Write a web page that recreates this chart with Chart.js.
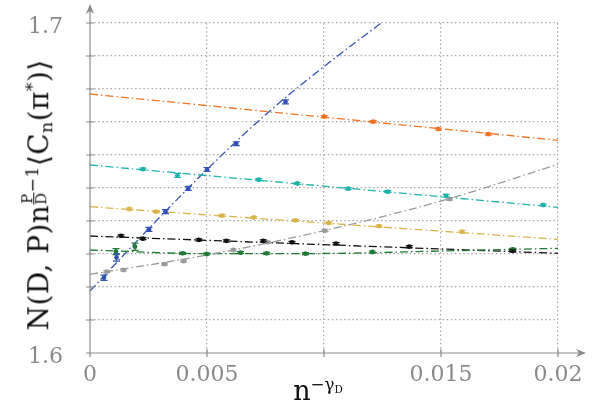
<!DOCTYPE html>
<html><head><meta charset="utf-8">
<script src="https://cdn.jsdelivr.net/npm/chart.js@4.4.0/dist/chart.umd.min.js"></script>
<style>
html,body{margin:0;padding:0;background:#fff;}
#wrap{position:relative;width:592px;height:403px;overflow:hidden;}
#c{position:absolute;left:0;top:0;}
.ttl{position:absolute;font-family:"DejaVu Serif",serif;color:#111;white-space:nowrap;line-height:1;}
#ytitle{left:38px;top:195px;font-size:28px;letter-spacing:0.4px;transform:translate(-50%,-50%) rotate(-90deg);}
#xtitle{left:318px;top:390px;font-size:27px;transform:translate(-50%,-50%);}
.sup{font-size:0.62em;vertical-align:0.55em;}
.sub{font-size:0.62em;vertical-align:-0.25em;}
.frac{display:inline-flex;flex-direction:column;align-items:center;vertical-align:middle;font-size:0.85em;line-height:0.9;}
.frac .num{border-bottom:1px solid #111;padding:0 1px;}
</style></head>
<body>
<div id="wrap">
<canvas id="c" width="592" height="403"></canvas>
<div class="ttl" id="ytitle">N(D, P)n<span class="sup"><span class="frac"><span class="num">P</span><span>D</span></span>−1</span>⟨C<span class="sub">n</span>(π<span class="sup">*</span>)⟩</div>
<div class="ttl" id="xtitle">n<span class="sup">−γ<span class="sub">D</span></span></div>
</div>
<script>
// ---- tick labels ----
const xTickValues = [0, 0.005, 0.01, 0.015, 0.02];
const xTickLabels = ['0', '0.005', '', '0.015', '0.02'];
const yTickValues = [1.6, 1.7];
const yTickLabels = ['1.6', '1.7'];

// ---- series (points, error bars, fit lines) ----
const blueX = [0.000598, 0.001132, 0.002521, 0.003226, 0.004201, 0.005000, 0.006252, 0.008355];
const blueY = [1.62282, 1.62894, 1.63748, 1.64282, 1.64991, 1.65561, 1.66342, 1.67612];
const blueErr = [0.0008, 0.0011, 0.0006, 0.0006, 0.0006, 0.0006, 0.0006, 0.0006];
const blueFitX = [0, 0.0025, 0.005, 0.0075, 0.01, 0.0125];
const blueFitY = [1.6188, 1.6376, 1.6556, 1.6722, 1.6868, 1.7003];

const orangeX = [0.010013, 0.012107, 0.014885, 0.017021];
const orangeY = [1.67161, 1.67009, 1.66788, 1.66630];
const orangeErr = [0.0003, 0.0003, 0.0003, 0.0003];
const orangeFitX = [0, 0.02];
const orangeFitY = [1.67848, 1.66445];

const tealX = [0.002265, 0.003739, 0.007209, 0.008859, 0.011038, 0.012726, 0.015214, 0.019372];
const tealY = [1.65570, 1.65385, 1.65252, 1.65136, 1.64979, 1.64888, 1.64764, 1.64485];
const tealErr = [0.0003, 0.0006, 0.0003, 0.0003, 0.0003, 0.0003, 0.0004, 0.0003];
const tealFitX = [0, 0.02];
const tealFitY = [1.65697, 1.64415];

const yellowX = [0.001679, 0.002833, 0.005641, 0.007000, 0.008782, 0.010205, 0.012350, 0.015897];
const yellowY = [1.64364, 1.64282, 1.64161, 1.64106, 1.64018, 1.63939, 1.63842, 1.63676];
const yellowErr = [0.0003, 0.0003, 0.0003, 0.0003, 0.0003, 0.0003, 0.0003, 0.0003];
const yellowFitX = [0, 0.02];
const yellowFitY = [1.64433, 1.63445];

const blackX = [0.001325, 0.002265, 0.004650, 0.005829, 0.007406, 0.008632, 0.010513, 0.013641, 0.018064];
const blackY = [1.63552, 1.63464, 1.63427, 1.63400, 1.63397, 1.63355, 1.63315, 1.63221, 1.63097];
const blackErr = [0.0003, 0.0003, 0.0003, 0.0003, 0.0003, 0.0003, 0.0003, 0.0003, 0.0003];
const blackFitX = [0, 0.02];
const blackFitY = [1.63545, 1.63021];

const greenX = [0.001111, 0.001923, 0.003953, 0.004987, 0.006432, 0.007551, 0.009209, 0.012064, 0.018064];
const greenY = [1.63070, 1.63221, 1.63021, 1.63000, 1.63039, 1.63021, 1.63009, 1.63061, 1.63142];
const greenErr = [0.0009, 0.0011, 0.0003, 0.0003, 0.0003, 0.0003, 0.0003, 0.0003, 0.0003];
const greenFitX = [0, 0.005, 0.01, 0.015, 0.02];
const greenFitY = [1.63121, 1.63009, 1.63015, 1.63091, 1.63173];

const grayX = [0.000714, 0.001432, 0.003184, 0.004000, 0.006124, 0.007585, 0.010043, 0.015363];
const grayY = [1.62464, 1.62515, 1.62691, 1.62782, 1.63121, 1.63355, 1.63706, 1.64661];
const grayErr = [0.0003, 0.0003, 0.0003, 0.0003, 0.0003, 0.0003, 0.0003, 0.0003];
const grayFitX = [0, 0.005, 0.01, 0.015, 0.02];
const grayFitY = [1.62385, 1.62970, 1.63706, 1.64606, 1.65718];

const series = [
  {x: grayX, y: grayY, err: grayErr, fx: grayFitX, fy: grayFitY, color: '#9a9a9a'},
  {x: greenX, y: greenY, err: greenErr, fx: greenFitX, fy: greenFitY, color: '#1f7a36'},
  {x: blackX, y: blackY, err: blackErr, fx: blackFitX, fy: blackFitY, color: '#111111'},
  {x: yellowX, y: yellowY, err: yellowErr, fx: yellowFitX, fy: yellowFitY, color: '#d9b54c'},
  {x: tealX, y: tealY, err: tealErr, fx: tealFitX, fy: tealFitY, color: '#1fb3aa'},
  {x: orangeX, y: orangeY, err: orangeErr, fx: orangeFitX, fy: orangeFitY, color: '#ee7424'},
  {x: blueX, y: blueY, err: blueErr, fx: blueFitX, fy: blueFitY, color: '#3352b5'}
];

const zip = (xs, ys) => xs.map((v, i) => ({x: v, y: ys[i]}));
const datasets = [];
series.forEach(s => {
  datasets.push({
    type: 'scatter', data: zip(s.fx, s.fy), showLine: true,
    borderColor: s.color, borderWidth: 1.3, borderDash: [8, 3, 1.5, 3],
    pointRadius: 0, cubicInterpolationMode: 'monotone', order: 2
  });
  datasets.push({
    type: 'scatter', data: zip(s.x, s.y), yErr: s.err,
    backgroundColor: s.color, borderColor: s.color, borderWidth: 0,
    pointRadius: 2.4, order: 1
  });
});

const near = (a, b) => Math.abs(a - b) < 1e-9;

const errPlugin = {
  id: 'errbars',
  afterDatasetsDraw(chart) {
    const ctx = chart.ctx, xs = chart.scales.x, ys = chart.scales.y;
    chart.data.datasets.forEach(ds => {
      if (!ds.yErr) return;
      ctx.save();
      ctx.strokeStyle = ds.borderColor; ctx.lineWidth = 1.2;
      ds.data.forEach((p, i) => {
        const px = xs.getPixelForValue(p.x);
        const y1 = ys.getPixelForValue(p.y - ds.yErr[i]);
        const y2 = ys.getPixelForValue(p.y + ds.yErr[i]);
        ctx.beginPath();
        ctx.moveTo(px, y1); ctx.lineTo(px, y2);
        ctx.moveTo(px - 3.5, y1); ctx.lineTo(px + 3.5, y1);
        ctx.moveTo(px - 3.5, y2); ctx.lineTo(px + 3.5, y2);
        ctx.stroke();
      });
      ctx.restore();
    });
  }
};

const axisPlugin = {
  id: 'axes',
  afterDraw(chart) {
    const ctx = chart.ctx, xs = chart.scales.x, ys = chart.scales.y;
    const x0 = xs.getPixelForValue(0), y0 = ys.getPixelForValue(1.6);
    ctx.save();
    ctx.strokeStyle = '#8a8a8a'; ctx.fillStyle = '#8a8a8a'; ctx.lineWidth = 1.2;
    ctx.beginPath();
    ctx.moveTo(x0, y0); ctx.lineTo(x0, 8);
    ctx.moveTo(x0, y0); ctx.lineTo(582, y0);
    xTickValues.forEach(v => { const p = xs.getPixelForValue(v); ctx.moveTo(p, y0 - 4); ctx.lineTo(p, y0 + 4); });
    for (let k = 0; k <= 10; k++) { const p = ys.getPixelForValue(1.6 + k * 0.01); ctx.moveTo(x0 - 4, p); ctx.lineTo(x0 + 4, p); }
    ctx.stroke();
    ctx.beginPath();
    ctx.moveTo(x0, 4); ctx.lineTo(x0 - 4, 14); ctx.lineTo(x0, 11); ctx.lineTo(x0 + 4, 14); ctx.closePath();
    ctx.moveTo(586, y0); ctx.lineTo(576, y0 - 4); ctx.lineTo(579, y0); ctx.lineTo(576, y0 + 4); ctx.closePath();
    ctx.fill();
    ctx.restore();
  }
};

new Chart(document.getElementById('c'), {
  type: 'scatter',
  data: {datasets},
  options: {
    responsive: false, animation: false, devicePixelRatio: 1,
    layout: {padding: {top: 23, right: 34, left: 0, bottom: 0}},
    plugins: {legend: {display: false}, tooltip: {enabled: false}},
    scales: {
      x: {
        type: 'linear', min: 0, max: 0.02,
        afterBuildTicks: s => { s.ticks = xTickValues.map(v => ({value: v})); },
        afterFit: s => { s.height = 50; s.paddingLeft = 0; s.paddingRight = 0; s.paddingTop = 0; s.paddingBottom = 0; },
        ticks: {
          padding: 9, color: '#8a8a8a', maxRotation: 0, autoSkip: false,
          font: {family: 'DejaVu Serif', size: 22},
          callback: v => { const i = xTickValues.findIndex(t => near(t, v)); return i >= 0 ? xTickLabels[i] : ''; }
        },
        grid: {drawTicks: false, lineWidth: 1.2,
          color: c => (c.tick && near(c.tick.value, 0)) ? 'rgba(0,0,0,0)' : '#a8a8a8'},
        border: {display: false, dash: [1.5, 2.6]}
      },
      y: {
        type: 'linear', min: 1.6, max: 1.7,
        afterBuildTicks: s => { const t = []; for (let k = 0; k <= 10; k++) t.push({value: 1.6 + k * 0.01}); s.ticks = t; },
        afterFit: s => { s.width = 90; s.paddingTop = 0; s.paddingBottom = 0; s.paddingLeft = 0; s.paddingRight = 0; },
        ticks: {
          padding: 27, color: '#8a8a8a', autoSkip: false, labelOffset: 4,
          font: {family: 'DejaVu Serif', size: 22},
          callback: v => { const i = yTickValues.findIndex(t => near(t, v)); return i >= 0 ? yTickLabels[i] : ''; }
        },
        grid: {drawTicks: false, lineWidth: 1.2,
          color: c => (c.tick && near(c.tick.value, 1.6)) ? 'rgba(0,0,0,0)' : '#a8a8a8'},
        border: {display: false, dash: [1.5, 2.6]}
      }
    }
  },
  plugins: [errPlugin, axisPlugin]
});
</script>
</body></html>
